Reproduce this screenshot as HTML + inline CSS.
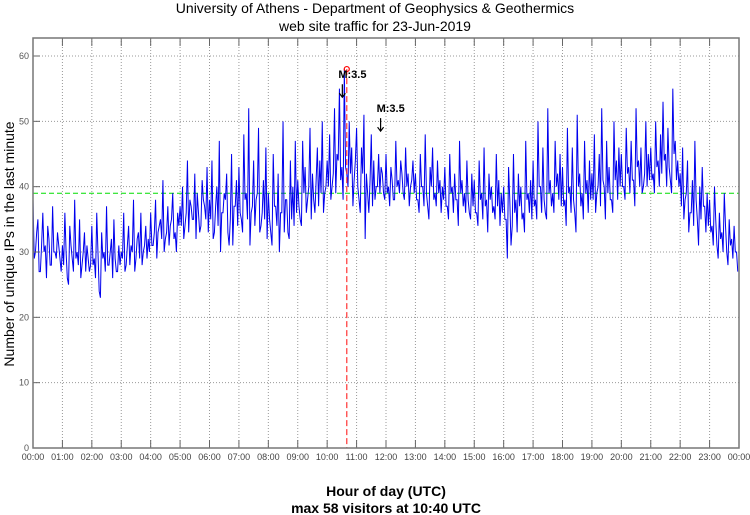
<!DOCTYPE html>
<html><head><meta charset="utf-8"><style>
body{margin:0;background:#fff;}
svg{display:block;font-family:"Liberation Sans",sans-serif;}
</style></head><body>
<svg id="chart" width="750" height="515">
<text x="375" y="13" text-anchor="middle" font-size="14" fill="#000">University of Athens - Department of Geophysics &amp; Geothermics</text>
<text x="375" y="31" text-anchor="middle" font-size="14" fill="#000">web site traffic for 23-Jun-2019</text>
<text transform="translate(14,244) rotate(-90)" text-anchor="middle" font-size="14" fill="#000">Number of unique IPs in the last minute</text>
<text x="386" y="496" text-anchor="middle" font-size="14" font-weight="bold" fill="#000">Hour of day (UTC)</text>
<text x="386" y="513" text-anchor="middle" font-size="14" font-weight="bold" fill="#000">max 58 visitors at 10:40 UTC</text>
<g id="grid"></g><g id="series"></g><g id="axes"></g>
</svg>
<script>
const yTicks=[0,10,20,30,40,50,60];
const xTickLabels=["00:00","01:00","02:00","03:00","04:00","05:00","06:00","07:00","08:00","09:00","10:00","11:00","12:00","13:00","14:00","15:00","16:00","17:00","18:00","19:00","20:00","21:00","22:00","23:00","00:00"];
const visitors=[
38,30,35,27,36,31,34,28,37,30,33,29,
31,36,26,34,29,38,30,35,28,33,31,27,
34,29,36,24,33,30,37,28,32,35,27,31,
30,36,28,34,31,38,29,33,36,30,34,32,
36,31,38,33,35,41,32,37,34,39,33,36,
37,40,34,44,38,35,42,39,33,41,37,43,
38,44,33,40,47,36,39,42,31,45,37,41,
43,35,48,39,52,36,44,38,49,34,41,46,
39,33,45,37,42,36,50,38,33,44,40,47,
41,35,47,43,38,49,42,36,46,44,50,39,
44,48,40,52,45,55,43,58,42,50,46,41,
49,38,46,51,42,36,48,44,40,45,43,39,
45,40,43,38,47,41,44,39,46,42,40,44,
42,38,45,40,48,37,43,46,39,44,41,40,
43,37,45,40,42,38,47,41,39,44,36,42,
41,36,44,39,46,38,42,40,37,45,41,39,
40,35,43,31,45,38,42,40,36,47,39,41,
44,38,50,40,46,36,52,41,39,47,42,45,
43,38,49,40,46,36,51,42,39,47,41,44,
42,48,39,45,52,40,47,43,38,50,44,46,
45,40,49,43,47,41,52,44,46,40,50,45,
46,42,50,44,48,53,45,49,41,55,47,44,
42,46,38,44,36,41,47,35,40,43,37,39,
38,34,40,31,36,33,39,30,35,32,34,30];
const visitorsLow=[
29,33,27,31,30,26,32,28,30,29,31,27,
28,30,25,31,27,29,28,26,30,27,29,28,
28,26,30,23,29,27,28,30,26,29,27,28,
29,27,31,28,30,27,32,29,28,31,29,30,
31,33,29,34,32,30,33,31,35,32,30,34,
34,32,36,33,37,35,32,36,34,38,35,33,
35,32,37,34,30,36,38,33,35,31,37,34,
36,33,38,35,31,37,34,39,33,36,35,32,
35,31,37,34,30,36,33,38,32,35,34,36,
37,34,39,36,40,35,38,41,37,39,36,40,
40,38,42,39,44,41,38,43,40,42,37,44,
40,36,42,32,39,41,37,38,40,39,42,38,
39,37,41,38,40,39,42,38,40,37,41,39,
38,36,40,37,39,35,40,38,37,39,36,38,
37,35,39,36,38,34,39,37,36,38,35,37,
36,34,38,35,37,33,38,36,35,37,34,36,
35,29,38,34,36,33,37,35,33,38,36,35,
37,35,40,36,38,35,39,37,36,40,38,37,
37,34,39,36,38,33,40,37,35,39,36,38,
38,36,40,37,41,35,39,38,36,41,38,40,
40,38,42,39,41,37,43,40,39,42,40,41,
41,39,43,40,42,44,40,43,39,45,41,40,
37,35,39,33,36,34,38,31,35,37,33,34,
33,31,35,29,32,30,34,28,31,29,30,27];
const meanLevel=39;
const maxValue=58, maxHour=10+40/60;
const quakes=[{h:10.55,label:"M:3.5",y:56.6},{h:11.85,label:"M:3.5",y:51.4}];
const L=33,R=739,T=38,B=448;
const x=h=>L+(R-L)*h/24, y=v=>B-(B-56)*v/60;
const NS="http://www.w3.org/2000/svg";
function mk(p,t,a){const e=document.createElementNS(NS,t);for(const k in a)e.setAttribute(k,a[k]);p.appendChild(e);return e;}
const grid=document.getElementById('grid'),ser=document.getElementById('series'),ax=document.getElementById('axes');
yTicks.forEach(v=>{
 if(v>0){const g=mk(grid,'line',{x1:L,x2:R,y1:y(v),y2:y(v),stroke:'#999','stroke-dasharray':'1,2','stroke-width':1});
 
 }
 const t=mk(ax,'text',{x:L-4,y:y(v)+3,'text-anchor':'end','font-size':9,fill:'#555'});t.textContent=v;
 
 
 mk(ax,'line',{x1:L,x2:L+7,y1:y(v),y2:y(v),stroke:'#666'});
});
xTickLabels.forEach((s,i)=>{
 const xx=x(i);
 if(i>0&&i<24){const g=mk(grid,'line',{x1:xx,x2:xx,y1:T,y2:B,stroke:'#999','stroke-dasharray':'1,2'});
 
 
 mk(ax,'line',{x1:xx,x2:xx,y1:B,y2:B-8,stroke:'#666'});mk(ax,'line',{x1:xx,x2:xx,y1:T,y2:T+8,stroke:'#666'});}
 const t=mk(ax,'text',{x:xx,y:B+12,'text-anchor':'middle','font-size':9,fill:'#444'});t.textContent=s;
 
 
});
const fr=mk(ax,'rect',{x:L,y:T,width:R-L,height:B-T,fill:'none',stroke:'#777','stroke-width':1.5});


const ml=mk(ser,'line',{x1:L,x2:R,y1:y(meanLevel),y2:y(meanLevel),stroke:'#00dd00','stroke-dasharray':'5,3','stroke-width':1});


const n=visitors.length, step=24/n;
const pts=[];
visitors.forEach((v,i)=>{pts.push(x(i*step)+','+y(v));pts.push(x((i+0.5)*step)+','+y(visitorsLow[i]));});
const pl=mk(ser,'polyline',{points:pts.join(' '),fill:'none',stroke:'#0000ee','stroke-width':1});


const vl=mk(ser,'line',{x1:x(maxHour),x2:x(maxHour),y1:y(maxValue),y2:B,stroke:'#ff3333','stroke-dasharray':'6,3','stroke-width':1.2});


const c=mk(ser,'circle',{cx:x(maxHour),cy:y(maxValue),r:2.5,fill:'none',stroke:'#ff0000','stroke-width':1.2});


quakes.forEach(q=>{
 const xx=x(q.h), yy=y(q.y);
 const t=mk(ser,'text',{x:xx-5,y:yy,'font-size':11,'font-weight':'bold',fill:'#000'});t.textContent=q.label;
 
 
 const a=mk(ser,'path',{d:`M${xx-1},${yy+6} V${yy+19} M${xx-4},${yy+15} L${xx-1},${yy+19} L${xx+2},${yy+15}`,fill:'none',stroke:'#000','stroke-width':1.2});
 
 
});
</script>
</body></html>
